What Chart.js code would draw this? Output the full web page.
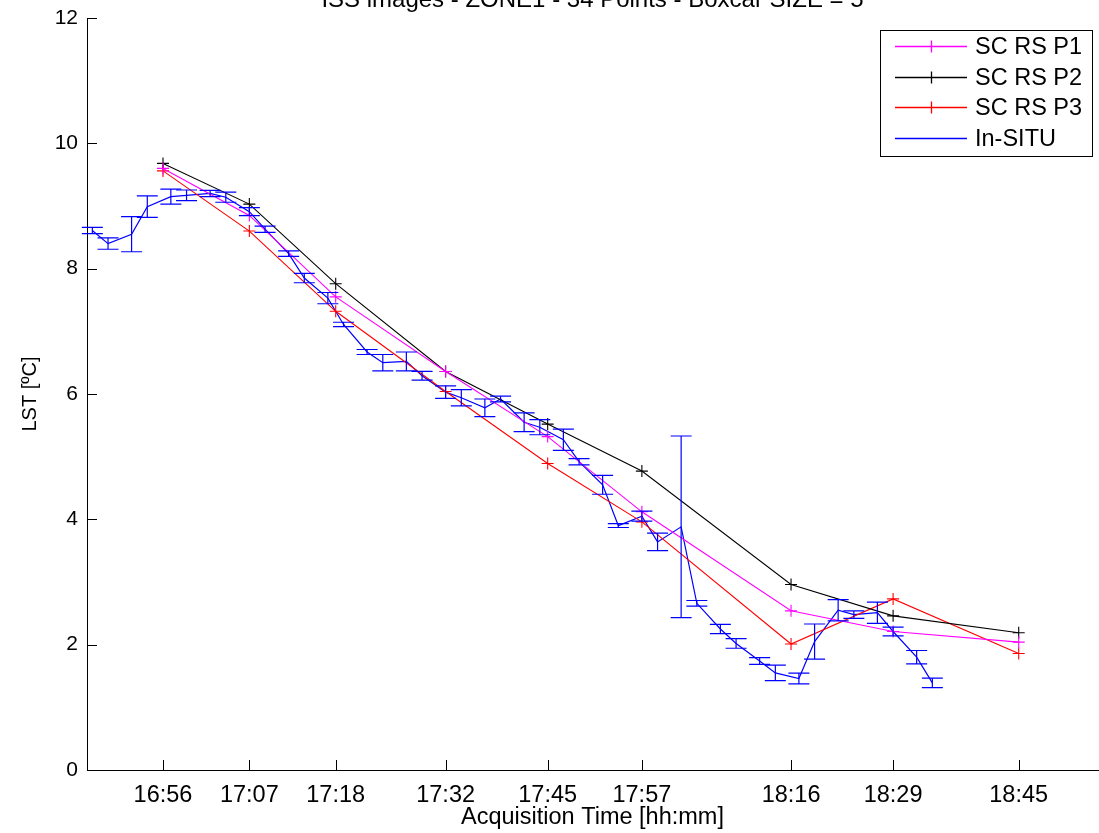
<!DOCTYPE html>
<html>
<head>
<meta charset="utf-8">
<title>LST time series</title>
<script src="https://cdn.jsdelivr.net/npm/chart.js@4.4.0/dist/chart.umd.min.js"></script>
<style>
  html, body { margin: 0; padding: 0; background: #fff; }
  #wrap { width: 1099px; height: 833px; }
</style>
</head>
<body>
<div id="wrap"><canvas id="lst-chart" width="1099" height="833"></canvas></div>
<script>
// Times are minutes after 16:00
const tickMinutes = [56, 67, 78, 92, 105, 117, 136, 149, 165];
const tickLabels = ['16:56', '17:07', '17:18', '17:32', '17:45', '17:57', '18:16', '18:29', '18:45'];

// Remote sensing estimates (one per image)
const rsTimes = [56, 67, 78, 92, 105, 117, 136, 149, 165];
const rsP1 = [9.60, 8.85, 7.55, 6.36, 5.32, 4.12, 2.54, 2.21, 2.04];
const rsP2 = [9.68, 9.03, 7.76, 6.36, 5.52, 4.77, 2.96, 2.46, 2.19];
const rsP3 = [9.56, 8.60, 7.32, 6.04, 4.89, 3.96, 2.01, 2.73, 1.86];

// Ground measurements: mean and half-width of the error bar
const insituTimes = [47, 49, 52, 54, 57, 59, 62, 64, 67, 69, 72, 74, 77, 79, 82, 84, 87, 89, 92, 94,
  97, 99, 102, 104, 107, 109, 112, 114, 117, 119, 122, 124, 127, 129, 132, 134, 137, 139, 142, 144,
  147, 149, 152, 154];
const insituMean = [8.61, 8.40, 8.55, 8.99, 9.15, 9.17, 9.20, 9.14, 8.91, 8.63, 8.24, 7.85, 7.53, 7.11,
  6.67, 6.50, 6.52, 6.29, 6.03, 5.94, 5.78, 5.92, 5.55, 5.47, 5.27, 4.92, 4.55, 3.90, 4.05, 3.64,
  3.88, 2.66, 2.25, 2.02, 1.74, 1.55, 1.46, 2.05, 2.55, 2.48, 2.51, 2.21, 1.80, 1.39];
const insituErr = [0.05, 0.09, 0.28, 0.17, 0.12, 0.085, 0.05, 0.08, 0.065, 0.05, 0.045, 0.075, 0.09, 0.035,
  0.04, 0.13, 0.15, 0.07, 0.10, 0.13, 0.14, 0.045, 0.15, 0.12, 0.17, 0.05, 0.15, 0.03, 0.08, 0.14,
  1.45, 0.045, 0.075, 0.077, 0.053, 0.125, 0.085, 0.28, 0.17, 0.06, 0.17, 0.07, 0.107, 0.075];

const FONT = "'Liberation Sans', Arial, Helvetica, sans-serif";
Chart.defaults.font.family = FONT;
Chart.defaults.font.size = 21;
Chart.defaults.color = '#000';

const toPoints = (xs, ys) => xs.map((x, i) => ({ x, y: ys[i] }));

function rsDataset(label, color, values) {
  return {
    label,
    data: toPoints(rsTimes, values),
    borderColor: color,
    backgroundColor: color,
    borderWidth: 1.1,
    pointStyle: 'cross',
    pointRadius: 6,
    pointBorderWidth: 1.1,
    pointBorderColor: color,
    tension: 0
  };
}

// Vertical error bars with caps on the in-situ series
const errorBars = {
  id: 'errorBars',
  afterDatasetsDraw(chart) {
    const { ctx, scales: { x, y } } = chart;
    ctx.save();
    ctx.strokeStyle = '#0000ff';
    ctx.lineWidth = 1.2;
    insituTimes.forEach((t, i) => {
      const px = x.getPixelForValue(t);
      const top = y.getPixelForValue(insituMean[i] + insituErr[i]);
      const bot = y.getPixelForValue(insituMean[i] - insituErr[i]);
      ctx.beginPath();
      ctx.moveTo(px, top); ctx.lineTo(px, bot);
      ctx.moveTo(px - 10.5, top); ctx.lineTo(px + 10.5, top);
      ctx.moveTo(px - 10.5, bot); ctx.lineTo(px + 10.5, bot);
      ctx.stroke();
    });
    ctx.restore();
  }
};

// Inward tick marks on both axes
const innerTicks = {
  id: 'innerTicks',
  afterDraw(chart) {
    const { ctx, chartArea: { left, bottom }, scales: { x, y } } = chart;
    ctx.save();
    ctx.strokeStyle = '#000';
    ctx.lineWidth = 1;
    ctx.beginPath();
    x.ticks.forEach(t => {
      const px = Math.round(x.getPixelForValue(t.value)) + 0.5;
      ctx.moveTo(px, bottom); ctx.lineTo(px, bottom - 10);
    });
    y.ticks.forEach(t => {
      const py = Math.round(y.getPixelForValue(t.value)) + 0.5;
      ctx.moveTo(left, py); ctx.lineTo(left + 10, py);
    });
    ctx.stroke();
    ctx.restore();
  }
};

// Title sits at the very top edge, mostly outside the canvas
const topTitle = {
  id: 'topTitle',
  afterDraw(chart) {
    const { ctx, chartArea: { left, right } } = chart;
    ctx.save();
    ctx.font = `24px ${FONT}`;
    ctx.fillStyle = '#000';
    ctx.textAlign = 'center';
    ctx.textBaseline = 'alphabetic';
    ctx.fillText('ISS images - ZONE1 - 34 Points - Boxcar SIZE = 5', (left + right) / 2, 7);
    ctx.restore();
  }
};

// Boxed legend with a line sample and marker per series
const boxLegend = {
  id: 'boxLegend',
  afterDraw(chart) {
    const { ctx } = chart;
    const box = { x: 880.5, y: 30.5, w: 212, h: 126 };
    ctx.save();
    ctx.fillStyle = '#fff';
    ctx.fillRect(box.x, box.y, box.w, box.h);
    ctx.strokeStyle = '#000';
    ctx.lineWidth = 1;
    ctx.strokeRect(box.x, box.y, box.w, box.h);
    ctx.font = `23.5px ${FONT}`;
    ctx.textBaseline = 'middle';
    ctx.fillStyle = '#000';
    chart.data.datasets.forEach((ds, i) => {
      const cy = Math.round(46 + i * 30.5) + 0.5;
      ctx.strokeStyle = ds.borderColor;
      ctx.lineWidth = 1.3;
      ctx.beginPath();
      ctx.moveTo(895, cy); ctx.lineTo(967, cy);
      if (ds.pointStyle === 'cross') {
        ctx.moveTo(931.5, cy - 6); ctx.lineTo(931.5, cy + 6);
      }
      ctx.stroke();
      ctx.fillText(ds.label, 975, cy + 1);
    });
    ctx.restore();
  }
};

new Chart(document.getElementById('lst-chart'), {
  type: 'line',
  data: {
    datasets: [
      rsDataset('SC RS P1', '#ff00ff', rsP1),
      rsDataset('SC RS P2', '#000000', rsP2),
      rsDataset('SC RS P3', '#ff0000', rsP3),
      {
        label: 'In-SITU',
        data: toPoints(insituTimes, insituMean),
        borderColor: '#0000ff',
        backgroundColor: '#0000ff',
        borderWidth: 1.2,
        pointRadius: 0,
        tension: 0
      }
    ]
  },
  options: {
    responsive: false,
    animation: false,
    devicePixelRatio: 1,
    layout: { autoPadding: false, padding: { top: 18, right: 1, left: 0, bottom: 0 } },
    scales: {
      x: {
        type: 'linear',
        min: 46.32,
        max: 175.1,
        afterFit: s => {
          s.height = 63;
          s.paddingLeft = 0;
          s.paddingRight = 0;
        },
        afterBuildTicks: s => { s.ticks = tickMinutes.map(v => ({ value: v })); },
        ticks: {
          padding: 11,
          autoSkip: false,
          maxRotation: 0,
          font: { size: 23.5 },
          callback: v => tickLabels[tickMinutes.indexOf(v)]
        },
        grid: { display: false, drawTicks: false },
        border: { display: true, color: '#000', width: 1 },
        title: {
          display: true,
          text: 'Acquisition Time [hh:mm]',
          font: { size: 23.5 },
          padding: { top: 0, bottom: 1 }
        }
      },
      y: {
        min: 0,
        max: 12,
        afterFit: s => {
          s.width = 87;
          s.paddingTop = 0;
          s.paddingBottom = 0;
        },
        ticks: { stepSize: 2, padding: 9 },
        grid: { display: false, drawTicks: false },
        border: { display: true, color: '#000', width: 1 },
        title: {
          display: true,
          text: 'LST [ºC]',
          font: { size: 20 },
          padding: { top: 18, bottom: 0 }
        }
      }
    },
    plugins: {
      legend: { display: false },
      tooltip: { enabled: false }
    }
  },
  plugins: [errorBars, innerTicks, topTitle, boxLegend]
});
</script>
</body>
</html>
